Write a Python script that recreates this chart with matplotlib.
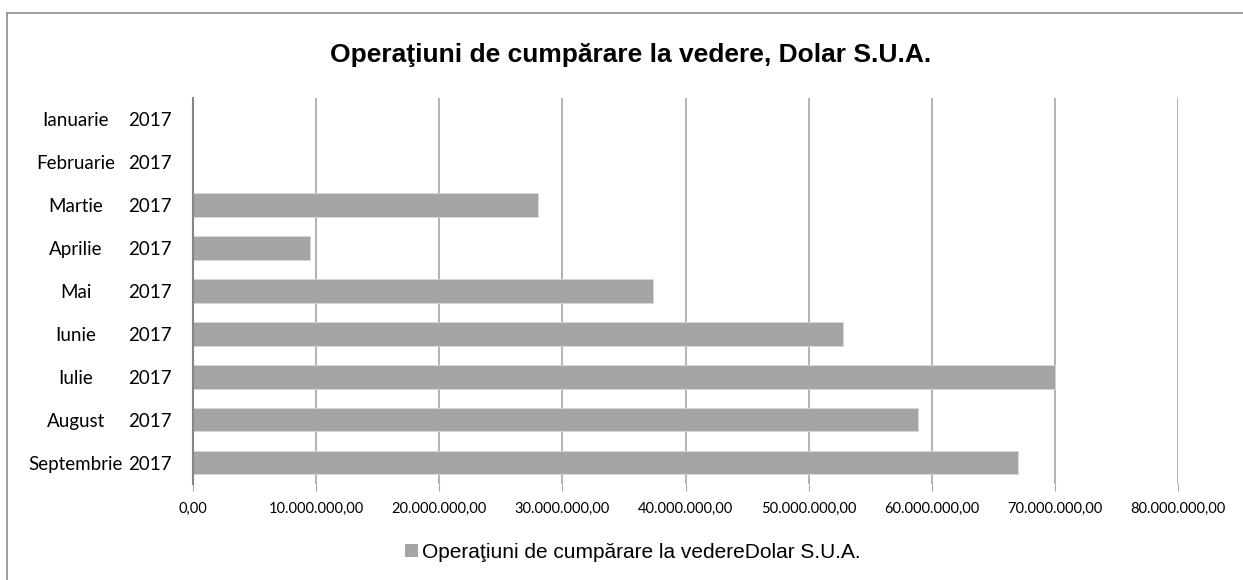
import matplotlib.pyplot as plt
from matplotlib.lines import Line2D
from matplotlib.patches import Patch
import matplotlib.transforms as mtransforms

months = ['Ianuarie', 'Februarie', 'Martie', 'Aprilie', 'Mai', 'Iunie', 'Iulie', 'August', 'Septembrie']
year = '2017'
values = [0, 0, 28.0e6, 9.5e6, 37.4e6, 52.8e6, 70.0e6, 58.9e6, 67.0e6]
xticks = [0, 10e6, 20e6, 30e6, 40e6, 50e6, 60e6, 70e6, 80e6]
title = 'Operaţiuni de cumpărare la vedere, Dolar S.U.A.'
legend_label = 'Operaţiuni de cumpărare la vedereDolar S.U.A.'

W, H = 1243, 580
fig = plt.figure(figsize=(W / 100, H / 100), dpi=100)
fig.patch.set_facecolor('white')

# plot area in pixels: left 193, right 1178, top 98, bottom 484
ax = fig.add_axes([193 / W, 1 - 484 / H, (1178 - 193) / W, (484 - 98) / H])

pos = list(range(len(months)))
ax.barh(pos, values, height=0.55, color='#a5a5a5', edgecolor='#d9d9d9', linewidth=0.6, zorder=3)
ax.set_ylim(len(months) - 0.5, -0.5)
ax.set_xlim(0, 80e6)

def fmt(v):
    s = f'{v:,.2f}'
    return s.replace(',', 'X').replace('.', ',').replace('X', '.')

ax.set_xticks(xticks)
ax.set_xticklabels([fmt(v) for v in xticks], fontsize=10.5, family='Lato')
ax.tick_params(axis='x', length=5, color='#a6a6a6', pad=8)
ax.grid(axis='x', color='#a6a6a6', linewidth=1.2, zorder=0)

ax.set_yticks(pos)
ax.set_yticklabels([year] * len(months), fontsize=13.5, family='Lato')
ax.tick_params(axis='y', length=0, pad=15)

# month labels, centred in their own column
trans = mtransforms.blended_transform_factory(fig.transFigure, ax.transData)
for i, m in enumerate(months):
    ax.text(76 / W, i, m, transform=trans, ha='center', va='center_baseline',
            fontsize=13.5, family='Lato')

for s in ['top', 'right', 'bottom']:
    ax.spines[s].set_visible(False)
ax.spines['left'].set_color('#868686')
ax.spines['left'].set_linewidth(1.5)
ax.spines['left'].set_zorder(4)

fig.text(631 / W, 1 - 55 / H, title, ha='center', va='center',
         fontsize=19, fontweight='bold', family='Liberation Sans')

handle = Patch(facecolor='#a5a5a5', edgecolor='none')
fig.legend([handle], [legend_label], loc='center', bbox_to_anchor=(633 / W, 1 - 552 / H),
           frameon=False, prop={'family': 'Liberation Sans', 'size': 15},
           handlelength=0.6, handleheight=0.6, handletextpad=0.2)

# outer frame: only top and left edges visible
fig.add_artist(Line2D([7 / W, 1], [1 - 13 / H, 1 - 13 / H], transform=fig.transFigure,
                      color='#8c8c8c', linewidth=1.2))
fig.add_artist(Line2D([7 / W, 7 / W], [0, 1 - 13 / H], transform=fig.transFigure,
                      color='#8c8c8c', linewidth=1.2))

fig.savefig('out.png', dpi=100)
